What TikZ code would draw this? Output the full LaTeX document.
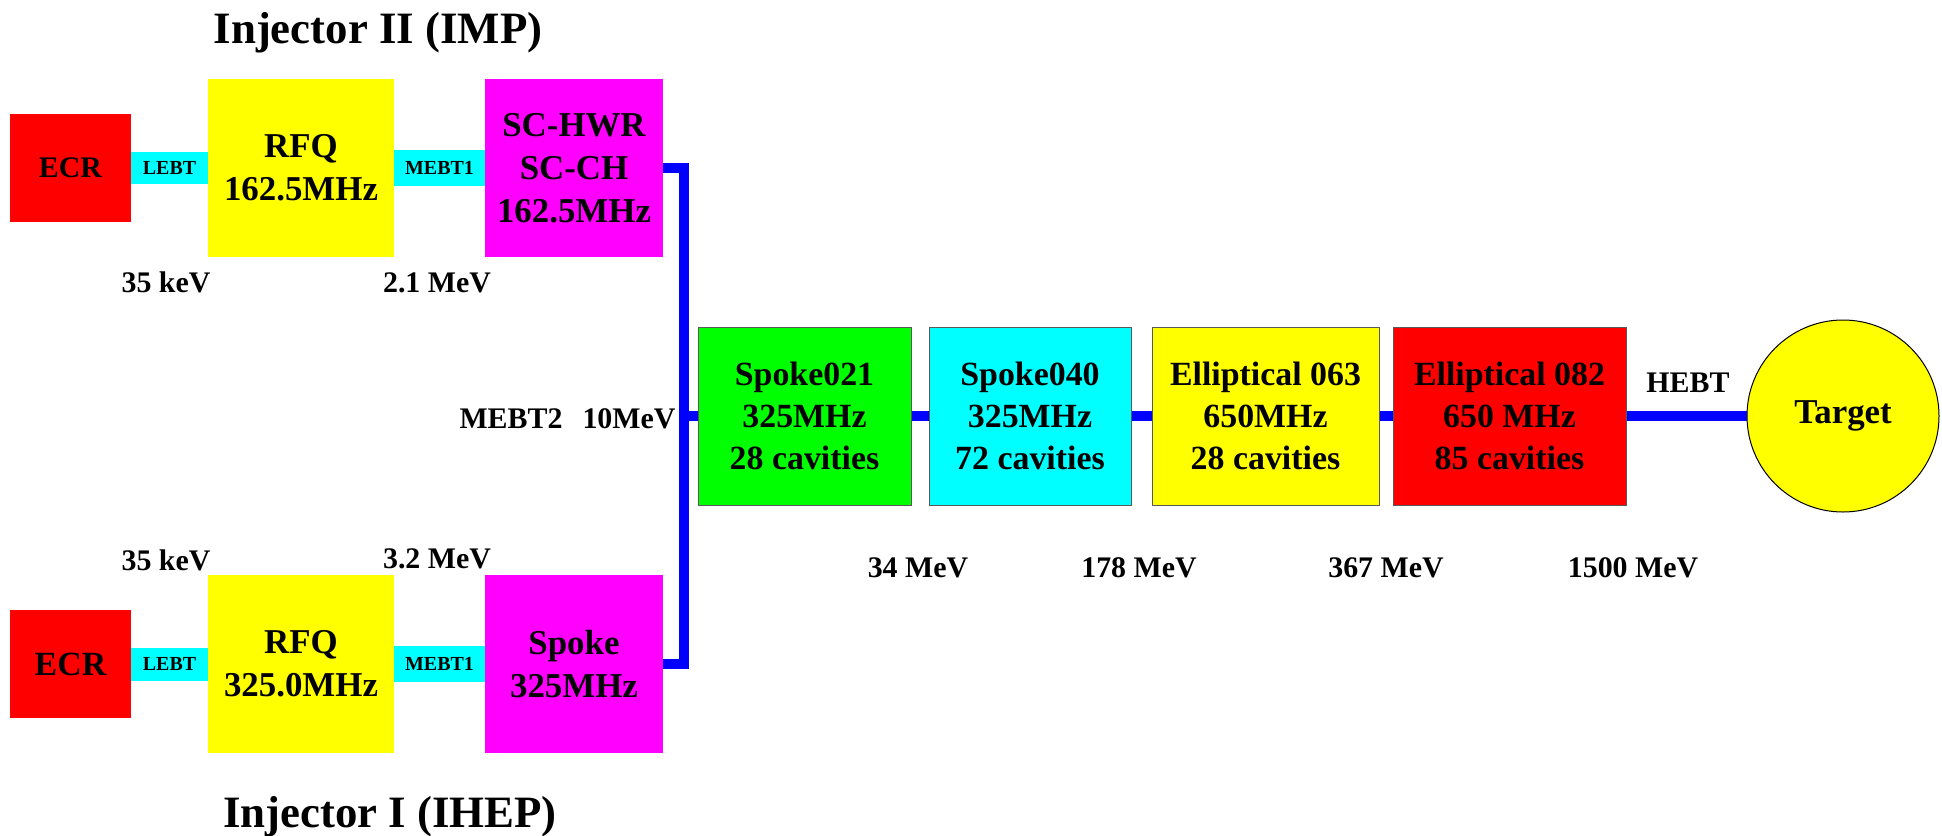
\documentclass[tikz,border=0pt]{standalone}
\usepackage{fontspec}
\setmainfont{Liberation Serif}
\definecolor{ecrred}{rgb}{1,0,0}
\definecolor{rfqyellow}{rgb}{1,1,0}
\definecolor{ltcyan}{rgb}{0,1,1}
\definecolor{scmagenta}{rgb}{1,0,1}
\definecolor{spkgreen}{rgb}{0,1,0}
\definecolor{beamblue}{rgb}{0,0,1}

\begin{document}
\begin{tikzpicture}[x={(1bp,0bp)}, y={(0bp,-1bp)},
    box/.style={inner sep=0pt, align=center, font=\fontsize{35}{43}\selectfont\bfseries},
    stage/.style={box, draw=black!65, line width=1bp, minimum width=#1, minimum height=178bp,
        font=\fontsize{34}{42}\selectfont\bfseries},
    link/.style={inner sep=0pt, fill=ltcyan, font=\fontsize{20}{24}\selectfont\bfseries},
    energy/.style={anchor=base, font=\fontsize{30}{36}\selectfont\bfseries},
    title/.style={anchor=base, font=\fontsize{45}{54}\selectfont\bfseries},
    beam/.style={draw=beamblue, line width=9.5bp}]
    % pixel coordinates, y runs downwards
    \useasboundingbox (0,0) rectangle (1942,836);
    \def\yA{168}    % injector II axis
    \def\yB{664}    % injector I axis
    \def\yL{416}    % main linac axis

    % Injector II (IMP)
    \node[title] (titleA) at (378,43) {Injector II (IMP)};
    \node[box, fill=ecrred, minimum width=121bp, minimum height=108bp,
        font=\fontsize{30}{36}\selectfont\bfseries] (ecrA) at (70.5,\yA) {ECR};
    \node[link, minimum width=77bp, minimum height=32bp] (lebtA) at (169.5,\yA) {LEBT};
    \node[box, fill=rfqyellow, minimum width=186bp, minimum height=178bp] (rfqA) at (301,\yA) {RFQ\\162.5MHz};
    \node[link, minimum width=91bp, minimum height=36bp] (mebtA) at (439.5,\yA) {MEBT1};
    \node[box, fill=scmagenta, minimum width=178bp, minimum height=178bp] (scA) at (574,\yA) {SC-HWR\\SC-CH\\162.5MHz};
    \node[energy] (enA1) at (166,292) {35 keV};
    \node[energy] (enA2) at (437,292) {2.1 MeV};

    % Injector I (IHEP)
    \node[box, fill=ecrred, minimum width=121bp, minimum height=108bp,
        font=\fontsize{34}{40}\selectfont\bfseries] (ecrB) at (70.5,\yB) {ECR};
    \node[link, minimum width=77bp, minimum height=33bp] (lebtB) at (169.5,\yB) {LEBT};
    \node[box, fill=rfqyellow, minimum width=186bp, minimum height=178bp] (rfqB) at (301,\yB) {RFQ\\325.0MHz};
    \node[link, minimum width=91bp, minimum height=36bp] (mebtB) at (439.5,\yB) {MEBT1};
    \node[box, fill=scmagenta, minimum width=178bp, minimum height=178bp] (spB) at (574,\yB) {Spoke\\325MHz};
    \node[energy] (enB1) at (166,570) {35 keV};
    \node[energy] (enB2) at (437,568) {3.2 MeV};
    \node[title] (titleB) at (390,827) {Injector I (IHEP)};

    % MEBT2 merging both injectors
    \coordinate (bus) at (684,\yL);
    \draw[beam] (scA.east) -| (bus) |- (spB.east);
    \node[energy] (mebt2) at (511,428) {MEBT2};
    \node[energy] (en10) at (629,428) {10MeV};

    % Main linac
    \node[stage=213bp, fill=spkgreen] (s021) at (804.5,\yL) {Spoke021\\325MHz\\28 cavities};
    \node[stage=202bp, fill=ltcyan] (s040) at (1030,\yL) {Spoke040\\325MHz\\72 cavities};
    \node[stage=227bp, fill=rfqyellow] (e063) at (1265.5,\yL) {Elliptical 063\\650MHz\\28 cavities};
    \node[stage=233bp, fill=ecrred] (e082) at (1509.5,\yL) {Elliptical 082\\650 MHz\\85 cavities};
    \node[circle, draw=black, line width=1bp, fill=rfqyellow, minimum size=192bp, inner sep=0pt,
        font=\fontsize{35}{42}\selectfont\bfseries] (target) at (1843,\yL) {Target};
    \draw[beam] (bus) -- (s021.west);
    \draw[beam] (s021.east) -- (s040.west);
    \draw[beam] (s040.east) -- (e063.west);
    \draw[beam] (e063.east) -- (e082.west);
    \draw[beam] (e082.east) -- (target.west);
    \node[energy] (hebt) at (1688,392) {HEBT};

    % Energies along the linac
    \node[energy] (en34) at (918,577) {34 MeV};
    \node[energy] (en178) at (1139,577) {178 MeV};
    \node[energy] (en367) at (1386,577) {367 MeV};
    \node[energy] (en1500) at (1633,577) {1500 MeV};
\end{tikzpicture}
\end{document}
